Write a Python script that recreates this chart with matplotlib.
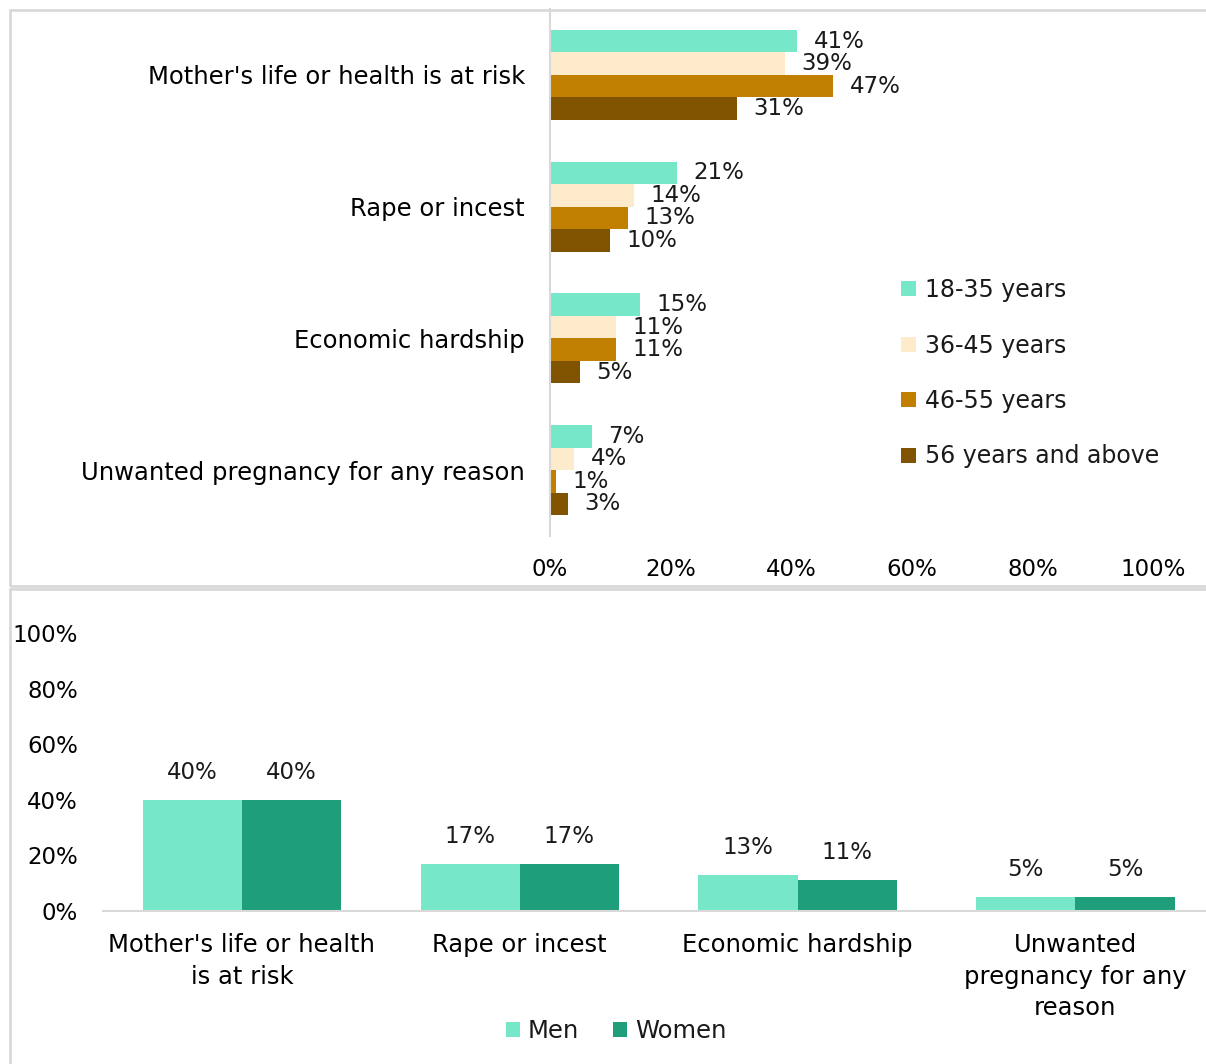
import matplotlib
matplotlib.use('Agg')
import matplotlib.pyplot as plt
from matplotlib.patches import Rectangle
import numpy as np

plt.rcParams['font.family'] = ['DejaVu Sans']
plt.rcParams['text.color'] = '#1a1a1a'

# reasons by age group
reasons = ["Mother's life or health is at risk", "Rape or incest",
           "Economic hardship", "Unwanted pregnancy for any reason"]
age_groups = ['18-35 years', '36-45 years', '46-55 years', '56 years and above']
age_18_35 = [41, 21, 15, 7]
age_36_45 = [39, 14, 11, 4]
age_46_55 = [47, 13, 11, 1]
age_56_up = [31, 10, 5, 3]
age_colors = ['#76E8C9', '#FDEBCC', '#C07F00', '#7F5300']

# reasons by gender
reasons_wrapped = ["Mother's life or health\nis at risk", "Rape or incest",
                   "Economic hardship", "Unwanted\npregnancy for any\nreason"]
men = [40, 17, 13, 5]
women = [40, 17, 11, 5]
gender_colors = ['#76E8C9', '#1E9E7A']

W, H = 1206, 1064
fig = plt.figure(figsize=(W / 100, H / 100), dpi=100)
fs = 16.5     # numbers
fs_txt = 17.5 # category names and legends

def px(x0, y0, x1, y1):
    return [x0 / W, 1 - y1 / H, (x1 - x0) / W, (y1 - y0) / H]

# panel borders
for (x0, y0, x1, y1) in [(10, 10, 1230, 586), (10, 589, 1230, 1080)]:
    fig.patches.append(Rectangle((x0 / W, 1 - y1 / H), (x1 - x0) / W, (y1 - y0) / H,
                                 transform=fig.transFigure, fill=False,
                                 edgecolor='#d9d9d9', linewidth=2))

# ---- top: horizontal bars by age ----
ax1 = fig.add_axes(px(550, 9, 1153, 536))
series = [age_18_35, age_36_45, age_46_55, age_56_up]
h = 0.171
y = np.arange(len(reasons))
for i, (vals, col, lab) in enumerate(zip(series, age_colors, age_groups)):
    pos = y + (i - 1.5) * h
    ax1.barh(pos, vals, height=h, color=col, label=lab)
    for p, v in zip(pos, vals):
        ax1.text(v + 2.7, p, f'{v}%', va='center', ha='left', fontsize=fs)
ax1.set_ylim(len(reasons) - 0.5, -0.5)
ax1.set_xlim(0, 100)
ax1.set_yticks(y)
ax1.set_yticklabels(reasons, fontsize=fs_txt)
ax1.set_xticks(range(0, 101, 20))
ax1.set_xticklabels([f'{t}%' for t in range(0, 101, 20)], fontsize=fs)
ax1.tick_params(axis='y', length=0, pad=18)
ax1.tick_params(axis='x', length=0, pad=16)
for s in ['top', 'right', 'bottom']:
    ax1.spines[s].set_visible(False)
ax1.spines['left'].set_color('#d9d9d9')
ax1.spines['left'].set_linewidth(1.5)
ax1.legend(loc='upper left', bbox_to_anchor=(0.567, 0.507), frameon=False,
           fontsize=17, handlelength=0.6, handleheight=0.6, handletextpad=0.4,
           labelspacing=1.33, borderaxespad=0)

# ---- bottom: vertical bars by gender ----
ax2 = fig.add_axes(px(103, 633, 1206, 911))
x = np.arange(len(reasons_wrapped))
w = 0.357
for off, vals, col, lab in [(-w / 2, men, gender_colors[0], 'Men'),
                            (w / 2, women, gender_colors[1], 'Women')]:
    ax2.bar(x + off, vals, width=w, color=col, label=lab)
    for xi, v in zip(x + off, vals):
        ax2.text(xi, v + 9.9, f'{v}%', ha='center', va='center', fontsize=fs)
ax2.set_ylim(0, 100)
ax2.set_xlim(-0.5, 3.47)
ax2.set_yticks(range(0, 101, 20))
ax2.set_yticklabels([f'{t}%' for t in range(0, 101, 20)], fontsize=fs)
ax2.set_xticks(x)
ax2.set_xticklabels(reasons_wrapped, fontsize=fs_txt, linespacing=1.4)
ax2.tick_params(axis='y', length=0, pad=18)
ax2.tick_params(axis='x', length=0, pad=16)
for s in ['top', 'right', 'left']:
    ax2.spines[s].set_visible(False)
ax2.spines['bottom'].set_color('#d9d9d9')
ax2.spines['bottom'].set_linewidth(1.5)
ax2.legend(loc='center', bbox_to_anchor=(0.465, -0.432), ncol=2, frameon=False,
           fontsize=fs_txt, handlelength=0.6, handleheight=0.6, handletextpad=0.3,
           columnspacing=1.4, borderaxespad=0)

fig.savefig('out.png', dpi=100)
